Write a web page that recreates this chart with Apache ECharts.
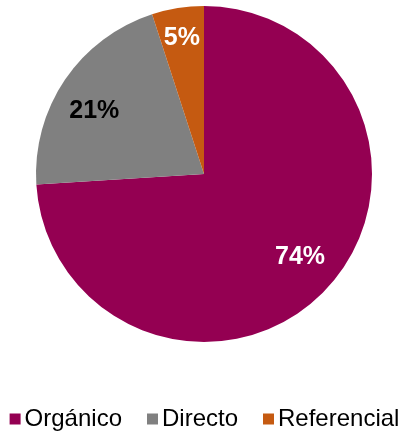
<!DOCTYPE html>
<html>
<head>
<meta charset="utf-8">
<script src="https://cdn.jsdelivr.net/npm/echarts@6/dist/echarts.min.js"></script>
<style>
  html, body { margin: 0; padding: 0; background: #fff; }
  #chart { width: 409px; height: 436px; }
</style>
</head>
<body>
<div id="chart"></div>
<script>
// Traffic sources (share of visits, %)
const categories = ['Orgánico', 'Directo', 'Referencial'];
const shares = [74, 21, 5];
const colors = ['#940052', '#808080', '#C55A11'];
const labelColors = ['#ffffff', '#000000', '#ffffff'];
// small nudges for the percentage labels
const labelOffsets = [[2, -5], [-3, 10], [-2, -8]];

const FONT = '"Liberation Sans", Arial, sans-serif';
const center = [204, 174];

const chart = echarts.init(document.getElementById('chart'), null, { renderer: 'canvas' });

const pieData = categories.map((name, i) => ({
  name,
  value: shares[i],
  itemStyle: { color: colors[i] }
}));

// Transparent ring whose middle sits where the percentage labels go
const labelData = categories.map((name, i) => ({
  name,
  value: shares[i],
  itemStyle: { color: 'rgba(0,0,0,0)' },
  label: { color: labelColors[i], offset: labelOffsets[i] }
}));

chart.setOption({
  animation: false,
  legend: {
    top: 407,
    left: 'center',
    padding: 0,
    icon: 'rect',
    itemWidth: 11,
    itemHeight: 11,
    itemGap: 25,
    textStyle: { fontFamily: FONT, fontSize: 24, color: '#000', padding: [0, 0, 0, -1] },
    data: categories
  },
  series: [
    {
      type: 'pie',
      center,
      radius: [0, 168],
      startAngle: 90,
      clockwise: true,
      silent: true,
      label: { show: false },
      labelLine: { show: false },
      data: pieData
    },
    {
      type: 'pie',
      center,
      radius: [84, 168],
      startAngle: 90,
      clockwise: true,
      silent: true,
      legendHoverLink: false,
      label: {
        show: true,
        position: 'inside',
        formatter: p => p.value + '%',
        fontFamily: FONT,
        fontWeight: 'bold',
        fontSize: 25
      },
      labelLine: { show: false },
      data: labelData
    }
  ]
});
</script>
</body>
</html>
